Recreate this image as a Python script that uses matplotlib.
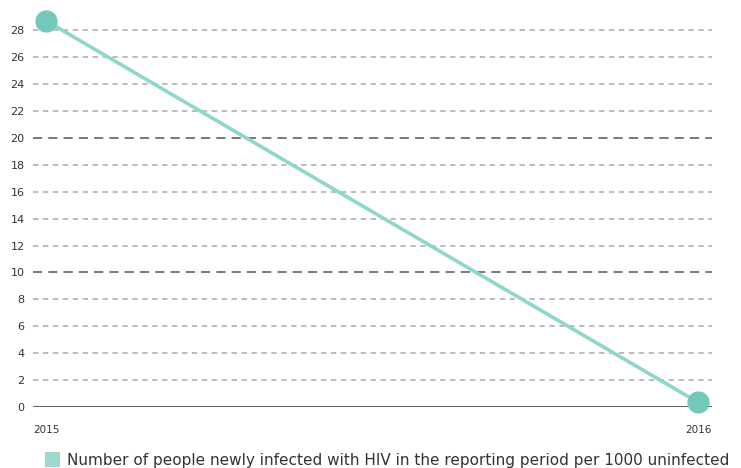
import matplotlib
matplotlib.use('Agg')
import matplotlib.pyplot as plt
from matplotlib.patches import Rectangle

years = [2015, 2016]
values = [28.7, 0.35]
yticks = list(range(0, 30, 2))
legend_label = 'Number of people newly infected with HIV in the reporting period per 1000 uninfected'

line_color = '#8fd6cb'
marker_color = '#72c9bb'

fig = plt.figure(figsize=(7.41, 4.68), dpi=100)
ax = fig.add_axes([33/741, 1 - 407/468, (712-33)/741, 397/468])

for t in yticks:
    if t == 0:
        ax.axhline(t, color='#666666', lw=1.5, zorder=1)
    elif t % 10 == 0:
        ax.axhline(t, color='#555555', lw=1.1, ls=(0, (6, 4)), zorder=1)
    else:
        ax.axhline(t, color='#aaaaaa', lw=1.1, ls=(0, (3.5, 3)), zorder=1)

ax.plot(years, values, color=line_color, lw=2.6, zorder=2, clip_on=False)
ax.plot(years, values, 'o', color=marker_color, ms=15, zorder=3, clip_on=False)

ax.set_xlim(2015 - 13/652, 2016 + 14/652)
ax.set_ylim(0, 29.5)
ax.set_yticks(yticks)
ax.set_xticks(years)
ax.set_xticklabels([str(y) for y in years])
ax.tick_params(axis='y', length=0, pad=6, labelsize=8, labelcolor='#333333')
ax.tick_params(axis='x', length=0, pad=13, labelsize=7.5, labelcolor='#333333')
for s in ax.spines.values():
    s.set_visible(False)

fig.patches.append(Rectangle((45/741, 1 - 467/468), 15/741, 15/468,
                             transform=fig.transFigure, facecolor='#9ed8cf',
                             edgecolor='none'))
fig.text(67/741, 1 - 460/468, legend_label, fontsize=11, color='#333333', va='center')

fig.savefig('out.png', dpi=100)
